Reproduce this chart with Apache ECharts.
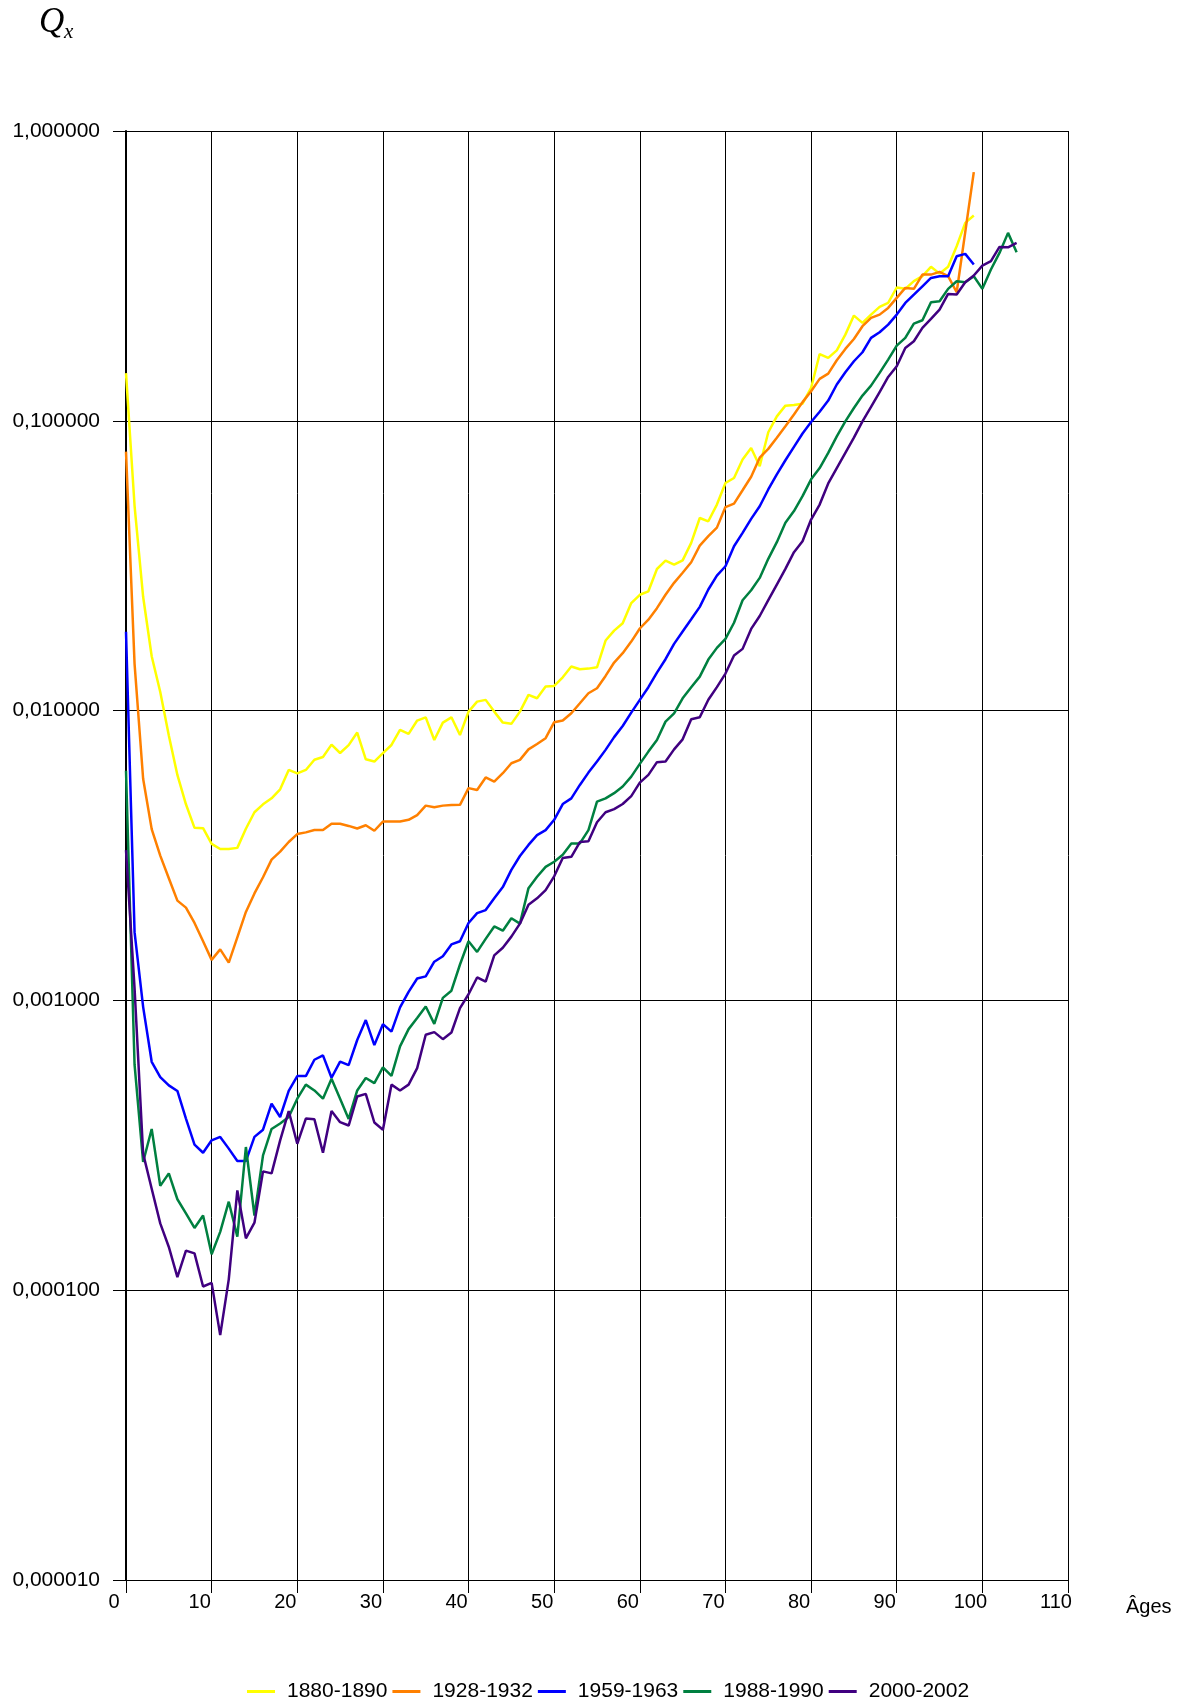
<!DOCTYPE html>
<html>
<head>
<meta charset="utf-8">
<script src="https://cdn.jsdelivr.net/npm/echarts@6/dist/echarts.min.js"></script>
<style>
  html, body { margin: 0; padding: 0; background: #fff; }
  #chart { width: 1187px; height: 1702px; }
</style>
</head>
<body>
<div id="chart"></div>
<script>
// quotients de mortalité Qx par âge (index = âge)
var periods = ['1880-1890', '1928-1932', '1959-1963', '1988-1990', '2000-2002'];
var colors = ['#FFFF00', '#FF8000', '#0000FF', '#008040', '#400080'];
var yTicks = [0.00001, 0.0001, 0.001, 0.01, 0.1, 1];

var q1880 = [0.146, 0.0509, 0.0247, 0.0154, 0.0116, 0.0082, 0.0060, 0.00475, 0.00394, 0.00393,
    0.00347, 0.00333, 0.00333, 0.00336, 0.00391, 0.00446, 0.00475, 0.00498, 0.00535, 0.00624,
    0.00607, 0.00624, 0.00677, 0.00692, 0.00763, 0.00714, 0.0076, 0.0084, 0.00679, 0.00667,
    0.00713, 0.00761, 0.00858, 0.00831, 0.00924, 0.00948, 0.00792, 0.00909, 0.00948, 0.00824,
    0.00992, 0.01074, 0.01089, 0.00992, 0.00909, 0.0090, 0.00992, 0.01133, 0.01103, 0.0121,
    0.01216, 0.01303, 0.01419, 0.01389, 0.01396, 0.01411, 0.01745, 0.01888, 0.02002, 0.0235,
    0.0251, 0.0258, 0.0308, 0.0329, 0.0319, 0.0330, 0.0379, 0.0462, 0.045, 0.0514,
    0.061, 0.0635, 0.0735, 0.0806, 0.0697, 0.0913, 0.1036, 0.1128, 0.1133, 0.1146,
    0.1298, 0.170, 0.1648, 0.175, 0.1983, 0.2307, 0.2177, 0.2325, 0.2472, 0.2551,
    0.2884, 0.2853, 0.3033, 0.3155, 0.3398, 0.322, 0.3398, 0.4003, 0.482, 0.5107];

var q1928 = [0.0783, 0.0145, 0.00582, 0.0039, 0.00316, 0.00264, 0.00221, 0.00209, 0.00185, 0.0016,
    0.00138, 0.0015, 0.00135, 0.00165, 0.00202, 0.00234, 0.00266, 0.00306, 0.00326, 0.00352,
    0.00375, 0.0038, 0.00387, 0.00387, 0.00407, 0.00407, 0.004, 0.00392, 0.00402, 0.00385,
    0.00414, 0.00414, 0.00414, 0.0042, 0.00436, 0.0047, 0.00464, 0.0047, 0.00472, 0.00473,
    0.0054, 0.00532, 0.00588, 0.00569, 0.00608, 0.00658, 0.00676, 0.00735, 0.00767, 0.00803,
    0.00912, 0.00924, 0.00979, 0.0106, 0.01148, 0.01194, 0.01317, 0.01465, 0.01578, 0.0173,
    0.0192, 0.0206, 0.02256, 0.0251, 0.0276, 0.0299, 0.0325, 0.0371, 0.040, 0.0428,
    0.0504, 0.0518, 0.0576, 0.0641, 0.0746, 0.0800, 0.0874, 0.0958, 0.1052, 0.116,
    0.1265, 0.1395, 0.1455, 0.1618, 0.177, 0.1916, 0.212, 0.2265, 0.2325, 0.2452,
    0.2655, 0.2874, 0.2853, 0.3195, 0.3195, 0.3264, 0.3155, 0.2777, 0.4477, 0.721];

var q1959 = [0.0187, 0.00172, 0.00095, 0.000614, 0.000544, 0.000509, 0.000487, 0.000391, 0.000318, 0.000298,
    0.000329, 0.000338, 0.000308, 0.000279, 0.000279, 0.000338, 0.000358, 0.00044, 0.000396, 0.000487,
    0.000548, 0.000548, 0.000624, 0.000646, 0.000541, 0.000615, 0.000598, 0.00073, 0.000855, 0.000701,
    0.000828, 0.00078, 0.000946, 0.00107, 0.00119, 0.00121, 0.00136, 0.00142, 0.00156, 0.0016,
    0.00185, 0.002, 0.00205, 0.00225, 0.00246, 0.00282, 0.00315, 0.00344, 0.00372, 0.00387,
    0.0042, 0.00476, 0.00498, 0.00554, 0.00611, 0.00667, 0.00732, 0.0081, 0.00885, 0.00984,
    0.01089, 0.01204, 0.01352, 0.01504, 0.01699, 0.01875, 0.02066, 0.0228, 0.02617, 0.02924,
    0.03148, 0.03692, 0.04105, 0.04589, 0.05072, 0.05794, 0.06531, 0.0731, 0.08132, 0.09043,
    0.0990, 0.1075, 0.1174, 0.1334, 0.147, 0.1605, 0.1724, 0.1932, 0.2021, 0.2148,
    0.2325, 0.2551, 0.2725, 0.2912, 0.3112, 0.3155, 0.3155, 0.3698, 0.3767, 0.346];

var q1988 = [0.0062, 0.0006, 0.000277, 0.00036, 0.000229, 0.000253, 0.000206, 0.000184, 0.000164, 0.000181,
    0.000133, 0.000159, 0.000202, 0.000153, 0.000312, 0.000181, 0.000292, 0.00036, 0.000376, 0.000396,
    0.000458, 0.000512, 0.000489, 0.000458, 0.000537, 0.000458, 0.00039, 0.000489, 0.00054, 0.000518,
    0.000587, 0.000549, 0.000694, 0.000796, 0.000869, 0.000953, 0.00083, 0.00102, 0.00108, 0.00133,
    0.0016, 0.00147, 0.00163, 0.0018, 0.00174, 0.00192, 0.00184, 0.00244, 0.00267, 0.00289,
    0.00301, 0.00318, 0.00348, 0.00348, 0.00387, 0.00485, 0.00498, 0.00519, 0.00547, 0.00592,
    0.00655, 0.00722, 0.00792, 0.00916, 0.00979, 0.01103, 0.01204, 0.0131, 0.0150, 0.01646,
    0.01768, 0.0201, 0.02404, 0.02602, 0.0287, 0.03339, 0.03812, 0.04446, 0.0488, 0.05495,
    0.0628, 0.0687, 0.0775, 0.0884, 0.0996, 0.1107, 0.1222, 0.1322, 0.1463, 0.1626,
    0.1817, 0.1932, 0.2165, 0.2223, 0.2566, 0.2585, 0.2853, 0.303, 0.3007, 0.3155,
    0.2853, 0.3326, 0.3796, 0.4451, 0.3817];

var q2000 = [0.0033, 0.0011, 0.000296, 0.000224, 0.00017, 0.000141, 0.000111, 0.000137, 0.000134, 0.000103,
    0.000106, 0.00007, 0.000109, 0.000221, 0.000151, 0.000171, 0.000257, 0.000253, 0.000329, 0.000415,
    0.00032, 0.000391, 0.000389, 0.000298, 0.000415, 0.00038, 0.00037, 0.000466, 0.000476, 0.000379,
    0.000358, 0.000512, 0.000489, 0.000512, 0.000584, 0.000761, 0.000777, 0.000735, 0.000775, 0.000941,
    0.00105, 0.0012, 0.00116, 0.00143, 0.00152, 0.00166, 0.00184, 0.00214, 0.00225, 0.0024,
    0.00268, 0.0031, 0.00313, 0.00352, 0.00354, 0.00412, 0.00446, 0.00457, 0.00476, 0.00507,
    0.00564, 0.006, 0.00664, 0.00667, 0.00735, 0.00796, 0.00934, 0.00948, 0.0109, 0.01205,
    0.01342, 0.0155, 0.01633, 0.01914, 0.0212, 0.02404, 0.02722, 0.03083, 0.03521, 0.03842,
    0.04563, 0.0514, 0.0608, 0.0687, 0.0775, 0.0875, 0.0995, 0.1116, 0.1257, 0.1417,
    0.1542, 0.1784, 0.1881, 0.2092, 0.2247, 0.2419, 0.2741, 0.2728, 0.3007, 0.3171,
    0.3433, 0.3554, 0.398, 0.3969, 0.4111];

var allQ = [q1880, q1928, q1959, q1988, q2000];

function toPoints(arr) {
    var pts = [];
    for (var i = 0; i < arr.length; i++) {
        pts.push([i, arr[i]]);
    }
    return pts;
}

var font = 'Liberation Sans, Arial, sans-serif';
var serif = 'Liberation Serif, Times New Roman, serif';

var series = [];
for (var s = 0; s < periods.length; s++) {
    series.push({
        name: periods[s],
        type: 'line',
        data: toPoints(allQ[s]),
        showSymbol: false,
        symbol: 'none',
        lineStyle: { color: colors[s], width: 2.5 },
        itemStyle: { color: colors[s] },
        z: 3 + s
    });
}

var option = {
    animation: false,
    backgroundColor: '#fff',
    grid: { left: 126, right: 119, top: 131, bottom: 122 },
    xAxis: {
        type: 'value', min: 0, max: 110, interval: 10,
        axisLine: { show: true, lineStyle: { color: '#000', width: 1 } },
        axisTick: { show: true, inside: false, length: 13, lineStyle: { color: '#000' } },
        axisLabel: { color: '#000', fontSize: 20, fontFamily: font, margin: 12, padding: [0, 24, 0, 0] },
        splitLine: { show: true, lineStyle: { color: '#000', width: 1 } }
    },
    yAxis: {
        type: 'log', logBase: 10, min: yTicks[0], max: yTicks[yTicks.length - 1],
        axisLine: { show: true, lineStyle: { color: '#000', width: 2 } },
        axisTick: { show: true, inside: false, length: 13, lineStyle: { color: '#000' } },
        axisLabel: {
            color: '#000', fontSize: 21, fontFamily: font, margin: 26,
            formatter: function (v) { return v.toFixed(6).replace('.', ','); }
        },
        splitLine: { show: true, lineStyle: { color: '#000', width: 1 } }
    },
    legend: {
        data: periods,
        left: 242, top: 1676,
        icon: 'rect', itemWidth: 28, itemHeight: 3, itemGap: 5,
        textStyle: { color: '#000', fontSize: 21, fontFamily: font, padding: [0, 0, 0, 7] }
    },
    graphic: [
        { type: 'text', left: 39, top: 5, style: { text: 'Q', fontSize: 35, fontStyle: 'italic', fontFamily: serif, fill: '#000' } },
        { type: 'text', left: 64, top: 22, style: { text: 'x', fontSize: 21, fontStyle: 'italic', fontFamily: serif, fill: '#000' } },
        { type: 'text', left: 1126, top: 1597, style: { text: 'Âges', fontSize: 20, fontFamily: font, fill: '#000' } }
    ],
    series: series
};

var myChart = echarts.init(document.getElementById('chart'));
myChart.setOption(option);
</script>
</body>
</html>
